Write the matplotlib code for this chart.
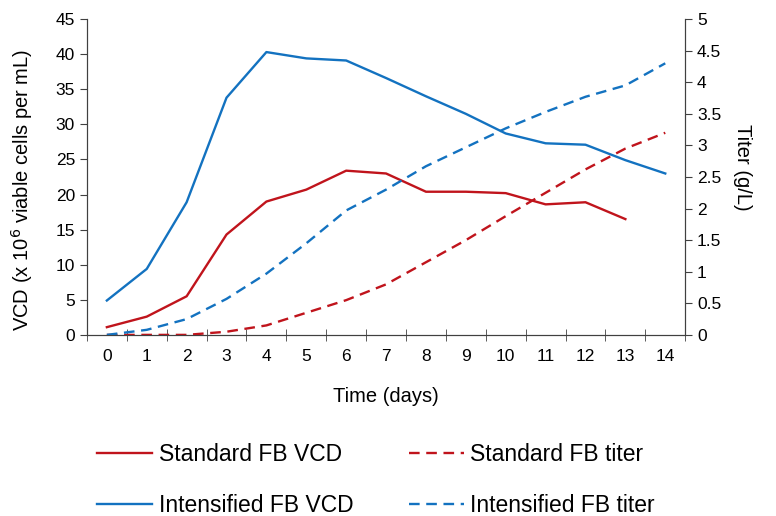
import matplotlib.pyplot as plt

plt.rcParams['font.family'] = ['Liberation Sans', 'DejaVu Sans']

days = list(range(15))
std_vcd = [1.1, 2.6, 5.5, 14.3, 19.0, 20.7, 23.4, 23.0, 20.4, 20.4, 20.2, 18.6, 18.9, 16.5]
int_vcd = [4.9, 9.4, 18.9, 33.8, 40.3, 39.4, 39.1, 36.6, 34.0, 31.5, 28.7, 27.3, 27.1, 24.9, 23.0]
std_titer = [0.0, 0.0, 0.0, 0.05, 0.15, 0.35, 0.55, 0.8, 1.15, 1.5, 1.88, 2.25, 2.62, 2.95, 3.2]
int_titer = [0.0, 0.08, 0.25, 0.57, 0.97, 1.45, 1.97, 2.3, 2.67, 2.97, 3.27, 3.53, 3.77, 3.95, 4.3]

red = '#C0141C'
blue = '#1372C0'
axis_col = '#404040'

fig = plt.figure(figsize=(7.76, 5.16), dpi=100)
ax = fig.add_axes([0.112, 0.351, 0.771, 0.612])
ax2 = ax.twinx()

l1, = ax.plot(days[:len(std_vcd)], std_vcd, color=red, lw=1.7, label='Standard FB VCD')
l2, = ax.plot(days, int_vcd, color=blue, lw=1.7, label='Intensified FB VCD')
l3, = ax2.plot(days, std_titer, color=red, lw=1.7, ls=(0, (4.5, 2.8)), label='Standard FB titer')
l4, = ax2.plot(days, int_titer, color=blue, lw=1.7, ls=(0, (4.5, 2.8)), label='Intensified FB titer')

ax.set_xlim(-0.5, 14.5)
ax.set_ylim(0, 45)
ax2.set_ylim(0, 5)
ax.set_yticks(range(0, 46, 5))
ax2.set_yticks([i * 0.5 for i in range(11)])
ax2.set_yticklabels(['0', '0.5', '1', '1.5', '2', '2.5', '3', '3.5', '4', '4.5', '5'])

# category axis: labels at centers, tick marks between
ax.set_xticks(days)
ax.set_xticks([d - 0.5 for d in days] + [14.5], minor=True)
ax.tick_params(axis='x', which='major', length=0, pad=10, labelsize=12.5)
ax.tick_params(axis='x', which='minor', direction='inout', length=8, color=axis_col)
ax.tick_params(axis='y', direction='out', length=5, labelsize=12.5, color=axis_col)
ax2.tick_params(axis='y', direction='out', length=5, labelsize=12.5, color=axis_col)

for a in (ax, ax2):
    a.spines['top'].set_visible(False)
    for s in ('left', 'right', 'bottom'):
        a.spines[s].set_color(axis_col)

ax.set_xlabel('Time (days)', fontsize=14.5, labelpad=17)
ax.set_ylabel('VCD (x 10$^6$ viable cells per mL)', fontsize=14.5)
ax.yaxis.set_label_coords(-0.087, 0.46)
ax2.set_ylabel('Titer (g/L)', fontsize=14.5, rotation=270)
ax2.yaxis.set_label_coords(1.112, 0.53)

fig.legend(handles=[l1, l2, l3, l4], loc='upper left', bbox_to_anchor=(0.125, 0.142),
           ncol=2, frameon=False, fontsize=16.5, handlelength=2.4, handletextpad=0.3,
           labelspacing=1.25, columnspacing=2.4, borderaxespad=0, borderpad=0)

fig.savefig('out.png', dpi=100)
